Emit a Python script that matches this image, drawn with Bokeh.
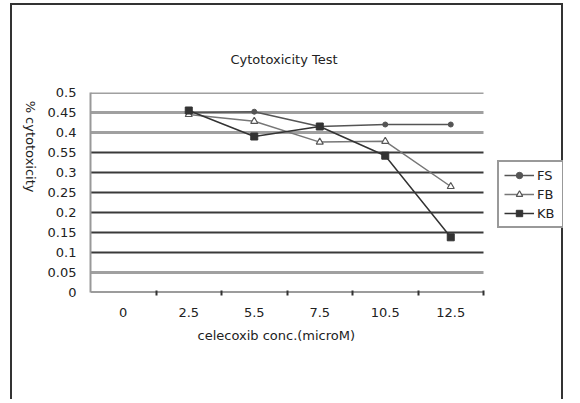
from math import pi
from bokeh.plotting import figure
from bokeh.models import Range1d, FixedTicker, Legend, LegendItem, Title
from bokeh.embed import file_html
from bokeh.resources import INLINE

categories = ["0", "2.5", "5.5", "7.5", "10.5", "12.5"]
conc = ["2.5", "5.5", "7.5", "10.5", "12.5"]
fs = [0.450, 0.452, 0.415, 0.420, 0.420]
fb = [0.445, 0.428, 0.376, 0.378, 0.265]
kb = [0.455, 0.390, 0.415, 0.342, 0.138]
y_ticks = [0, 0.05, 0.1, 0.15, 0.2, 0.25, 0.3, 0.35, 0.4, 0.45, 0.5]
y_tick_labels = ["0", "0.05", "0.1", "0.15", "0.2", "0.25", "0.3", "0.55", "0.4", "0.45", "0.5"]
dark_grid = [0, 0.1, 0.15, 0.2, 0.25, 0.3, 0.35]
light_grid = [0.05, 0.4, 0.45, 0.5]

FONT = "DejaVu Sans"
n = len(categories)

xs = [categories.index(c) + 0.5 for c in conc]

# frame extends to the right to hold the legend; the category area covers 393 of 473 px
FRAME_W, CAT_W = 473, 393
p = figure(width=553, height=396, x_range=Range1d(0, n * FRAME_W / CAT_W), y_range=Range1d(0, 0.5),
           output_backend="svg", toolbar_location=None,
           min_border_left=78, min_border_right=2, min_border_top=87, min_border_bottom=109)
p.styles = {"border-top": "2px solid #333", "border-left": "2px solid #333",
            "border-right": "2px solid #333", "margin-left": "10px", "margin-top": "3px"}
p.outline_line_color = None
p.background_fill_color = "white"
p.border_fill_color = "white"
p.xgrid.visible = False
p.ygrid.visible = False

title = Title(text="Cytotoxicity Test", align="left", offset=140, standoff=51,
              text_font=FONT, text_font_size="13px", text_font_style="normal", text_color="#222")
p.add_layout(title, "above")

# horizontal grid lines limited to the category area
p.segment(x0=[0] * len(dark_grid), x1=[n] * len(dark_grid), y0=dark_grid, y1=dark_grid,
          line_color="#3a3a3a", line_width=2)
p.segment(x0=[0] * len(light_grid), x1=[n] * len(light_grid), y0=light_grid, y1=light_grid,
          line_color="#a0a0a0", line_width=3)

# x axis
xa = p.xaxis[0]
xa.ticker = FixedTicker(ticks=[i + 0.5 for i in range(n)], minor_ticks=list(range(1, n + 1)))
xa.major_label_overrides = {i + 0.5: c for i, c in enumerate(categories)}
xa.major_tick_line_color = None
xa.minor_tick_line_color = "#333"
xa.minor_tick_line_width = 2
xa.minor_tick_in = 2
xa.minor_tick_out = 3
xa.axis_line_color = None
xa.major_label_standoff = 9
xa.major_label_text_font = FONT
xa.major_label_text_font_size = "13px"
xa.major_label_text_color = "#222"

xlabel = Title(text="celecoxib conc.(microM)", align="left", offset=107, standoff=12,
               text_font=FONT, text_font_size="13px", text_font_style="normal", text_color="#222")
p.add_layout(xlabel, "below")

# y axis
ya = p.yaxis[0]
ya.ticker = FixedTicker(ticks=y_ticks)
ya.major_label_overrides = {t: l for t, l in zip(y_ticks, y_tick_labels)}
ya.major_tick_line_color = None
ya.minor_tick_line_color = None
ya.axis_line_color = "#999"
ya.axis_line_width = 2
ya.major_label_standoff = 8
ya.major_label_text_font = FONT
ya.major_label_text_font_size = "13px"
ya.major_label_text_color = "#222"
ya.axis_label = "% cytotoxicity"
ya.axis_label_text_font = FONT
ya.axis_label_text_font_size = "13px"
ya.axis_label_text_font_style = "normal"
ya.axis_label_text_color = "#222"
ya.axis_label_text_align = "center"
ya.axis_label_standoff = 14
if "axis_label_orientation" in ya.properties():
    ya.axis_label_orientation = -pi / 2

# series
l1 = p.line(xs, fs, line_color="#555", line_width=1.5)
m1 = p.scatter(xs, fs, marker="circle", size=5, fill_color="#555", line_color="#555")
l2 = p.line(xs, fb, line_color="#777", line_width=1.5)
m2 = p.scatter(xs, fb, marker="triangle", size=7, fill_color="white", line_color="#555", line_width=1.2)
l3 = p.line(xs, kb, line_color="#333", line_width=1.5)
m3 = p.scatter(xs, kb, marker="square", size=7, fill_color="#333", line_color="#333")

legend = Legend(items=[LegendItem(label="FS", renderers=[l1, m1]),
                       LegendItem(label="FB", renderers=[l2, m2]),
                       LegendItem(label="KB", renderers=[l3, m3])],
                location=(407, 64))
legend.border_line_color = "#333"
legend.border_line_width = 2
legend.background_fill_alpha = 1
legend.label_text_font = FONT
legend.label_text_font_size = "13px"
legend.label_text_color = "#222"
legend.glyph_width = 30
legend.glyph_height = 16
legend.label_height = 16
legend.spacing = 3
legend.padding = 5
legend.margin = 0
legend.label_standoff = 3
p.add_layout(legend)

open("out.html", "w").write(file_html(p, INLINE))
